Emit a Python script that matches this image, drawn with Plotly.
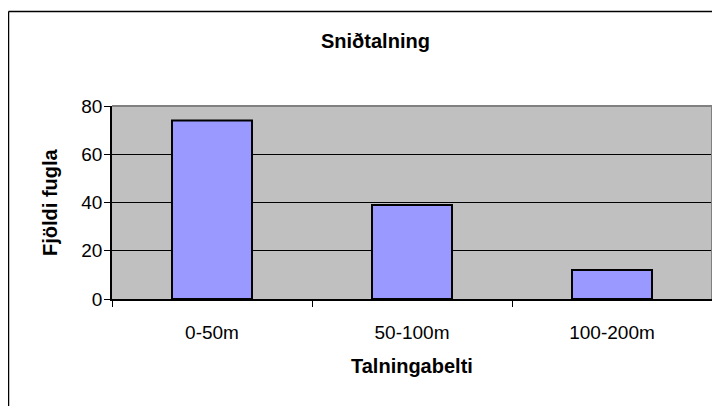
import plotly.graph_objects as go

categories = ["0-50m", "50-100m", "100-200m"]
values = [74, 39, 12]
y_ticks = [0, 20, 40, 60, 80]

title_text = "Sniðtalning"
x_title = "Talningabelti"
y_title = "Fjöldi fugla"

# page body has an 8px default margin; size figure so it fills the 720x406 window
OFF = 8
W, H = 720 - OFF, 406 - OFF
L, R, T, B = 112 - OFF, 8, 106 - OFF, 406 - 299
pw = W - L - R
ph = H - T - B

def px(xs):
    """screen x -> paper x"""
    return (xs - OFF - L) / pw

def py(ys):
    """screen y -> paper y"""
    return (H - B - (ys - OFF)) / ph

FONT = "Liberation Sans, Arial, sans-serif"

fig = go.Figure(
    go.Bar(
        x=categories,
        y=values,
        marker=dict(color="#9999FF", line=dict(color="black", width=2)),
    )
)

fig.update_layout(
    width=W,
    height=H,
    margin=dict(l=L, r=R, t=T, b=B, pad=0),
    paper_bgcolor="white",
    plot_bgcolor="#C0C0C0",
    bargap=0.6,
    showlegend=False,
    font=dict(family=FONT, color="black"),
)

fig.update_xaxes(
    type="category",
    showgrid=False,
    showline=True,
    linecolor="black",
    linewidth=1.5,
    ticks="outside",
    tickson="boundaries",
    ticklen=6,
    tickcolor="black",
    tickwidth=1,
    tickfont=dict(size=19, family=FONT, color="black"),
    ticklabelstandoff=15,
    zeroline=False,
)

fig.update_yaxes(
    range=[0, 80],
    tickvals=y_ticks,
    showgrid=True,
    gridcolor="black",
    gridwidth=1,
    showline=True,
    linecolor="black",
    linewidth=1.5,
    ticks="outside",
    ticklen=6,
    tickcolor="black",
    tickwidth=1,
    tickfont=dict(size=19, family=FONT, color="black"),
    ticklabelstandoff=-2,
    zeroline=False,
)

shapes = [
    # gray top & right plot border
    dict(type="line", xref="paper", yref="paper", x0=0, x1=1, y0=1, y1=1,
         line=dict(color="#808080", width=2), layer="above"),
    dict(type="line", xref="paper", yref="paper", x0=1, x1=1, y0=0, y1=1,
         line=dict(color="#808080", width=2), layer="above"),
    # outer chart border (left and top)
    dict(type="line", xref="paper", yref="paper", x0=px(8.5), x1=px(730), y0=py(11.5), y1=py(11.5),
         line=dict(color="black", width=1.5), layer="above"),
    dict(type="line", xref="paper", yref="paper", x0=px(8.5), x1=px(8.5), y0=py(11.5), y1=py(420),
         line=dict(color="black", width=1.5), layer="above"),
]

annotations = [
    dict(text=f"<b>{title_text}</b>", xref="paper", yref="paper", x=px(375), y=py(41),
         showarrow=False, xanchor="center", yanchor="middle", font=dict(size=20, family=FONT)),
    dict(text=f"<b>{x_title}</b>", xref="paper", yref="paper", x=px(412), y=py(366),
         showarrow=False, xanchor="center", yanchor="middle", font=dict(size=20, family=FONT)),
    dict(text=f"<b>{y_title}</b>", xref="paper", yref="paper", x=px(50), y=py(202),
         showarrow=False, xanchor="center", yanchor="middle", textangle=-90,
         font=dict(size=20, family=FONT)),
]

fig.update_layout(shapes=shapes, annotations=annotations)

fig.write_html("out.html")
